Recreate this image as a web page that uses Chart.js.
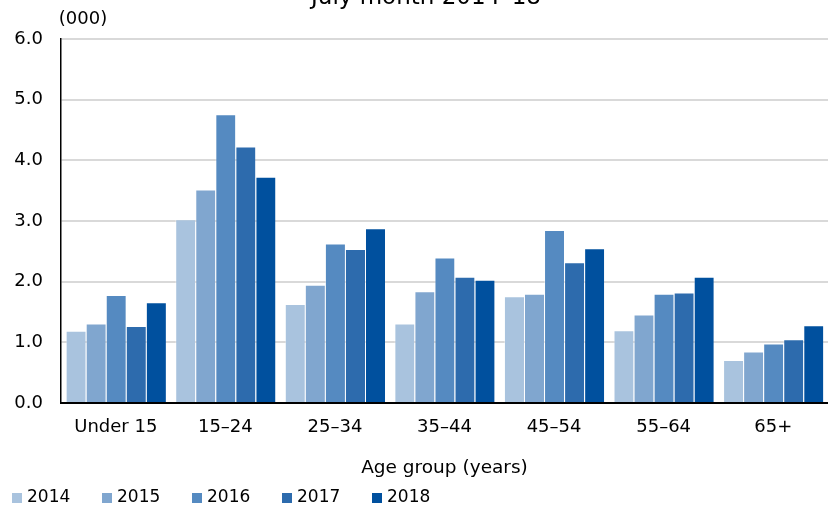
<!DOCTYPE html>
<html>
<head>
<meta charset="utf-8">
<script src="https://cdn.jsdelivr.net/npm/chart.js@4"></script>
<style>
  html, body { margin: 0; padding: 0; background: #fff; }
  #wrap { width: 828px; height: 511px; position: relative; }
</style>
</head>
<body>
<div id="wrap"><canvas id="chart"></canvas></div>
<script>
// Chart data
const categories = ['Under 15', '15–24', '25–34', '35–44', '45–54', '55–64', '65+'];
const years = ['2014', '2015', '2016', '2017', '2018'];
const values2014 = [1.19, 3.03, 1.63, 1.31, 1.76, 1.20, 0.71];
const values2015 = [1.31, 3.52, 1.95, 1.84, 1.80, 1.46, 0.85];
const values2016 = [1.78, 4.76, 2.63, 2.40, 2.85, 1.80, 0.98];
const values2017 = [1.27, 4.23, 2.54, 2.08, 2.32, 1.82, 1.05];
const values2018 = [1.66, 3.73, 2.88, 2.03, 2.55, 2.08, 1.28];
const yTicks = [0, 1, 2, 3, 4, 5, 6];

const colors = ['#A9C3DE', '#80A6CF', '#558AC1', '#2D6BAD', '#00509E'];
const FONT = 'DejaVu Sans';

const series = [values2014, values2015, values2016, values2017, values2018];

// Title (mostly cropped off at the top) and unit label
const titlePlugin = {
  id: 'topText',
  afterDraw(chart) {
    const ctx = chart.ctx;
    ctx.save();
    ctx.fillStyle = '#000';
    ctx.textAlign = 'center';
    ctx.textBaseline = 'alphabetic';
    ctx.font = `23px "${FONT}"`;
    ctx.fillText('July month 2014–18', 426, 4);
    ctx.font = `18px "${FONT}"`;
    ctx.textBaseline = 'middle';
    ctx.fillText('(000)', 83, 19);
    ctx.restore();
  }
};

// Legend along the bottom-left edge
const legendPlugin = {
  id: 'bottomLegend',
  afterDraw(chart) {
    const ctx = chart.ctx;
    ctx.save();
    ctx.font = `17px "${FONT}"`;
    ctx.textBaseline = 'middle';
    ctx.textAlign = 'left';
    chart.data.datasets.forEach((ds, i) => {
      const x = 12 + i * 90;
      ctx.fillStyle = ds.backgroundColor;
      ctx.fillRect(x, 493, 10, 10);
      ctx.fillStyle = '#000';
      ctx.fillText(ds.label, x + 15, 498);
    });
    ctx.restore();
  }
};

new Chart(document.getElementById('chart'), {
  type: 'bar',
  data: {
    labels: categories,
    datasets: years.map((y, i) => ({
      label: y,
      data: series[i],
      backgroundColor: colors[i],
      borderColor: 'rgba(255,255,255,0.4)',
      borderWidth: { top: 1, left: 1, right: 0, bottom: 0 },
      categoryPercentage: 0.915,
      barPercentage: 1.0
    }))
  },
  options: {
    responsive: true,
    maintainAspectRatio: false,
    animation: false,
    layout: { padding: { top: 39, right: 0, bottom: 28, left: 0 } },
    plugins: {
      legend: { display: false },
      title: { display: false },
      tooltip: { enabled: false }
    },
    scales: {
      x: {
        grid: { display: false, drawTicks: false },
        border: { display: true, color: '#000', width: 2 },
        ticks: { color: '#000', font: { family: FONT, size: 18 }, padding: 14, maxRotation: 0 },
        title: {
          display: true,
          text: 'Age group (years)',
          color: '#000',
          font: { family: FONT, size: 18.5 },
          padding: { top: 0, bottom: 4 }
        },
        afterFit(scale) { scale.height = 80; }
      },
      y: {
        min: 0,
        max: 6,
        afterBuildTicks(scale) { scale.ticks = yTicks.map(v => ({ value: v })); },
        grid: { color: '#D9D9D9', lineWidth: 2, drawTicks: false },
        border: { display: true, color: '#000', width: 1.5 },
        ticks: {
          color: '#000',
          font: { family: FONT, size: 18 },
          padding: 18,
          callback: v => Number(v).toFixed(1)
        },
        afterFit(scale) { scale.width = 61; }
      }
    }
  },
  plugins: [titlePlugin, legendPlugin]
});
</script>
</body>
</html>
